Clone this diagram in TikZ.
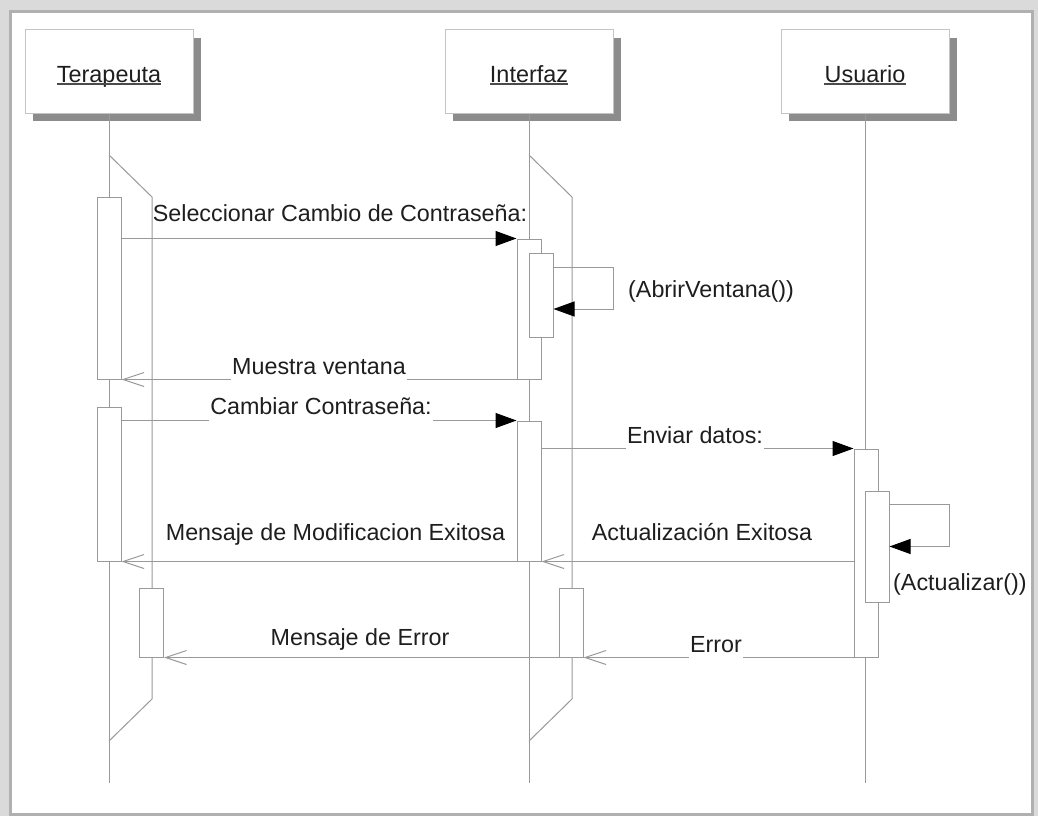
\documentclass[tikz,border=0pt]{standalone}
\usepackage{fontspec}
\setmainfont{Liberation Sans}
\usetikzlibrary{arrows.meta}
\definecolor{linegray}{HTML}{999999}
\definecolor{boxgray}{HTML}{C4C4C4}
\definecolor{shadowgray}{HTML}{8C8C8C}
\definecolor{actgray}{HTML}{9A9A9A}
\definecolor{txt}{HTML}{1E1E1E}
\definecolor{bggray}{HTML}{DADADA}
\definecolor{framegray}{HTML}{B0B0B0}
\begin{document}
\begin{tikzpicture}[x=1pt,y=-1pt,
  line/.style={draw=linegray, line width=1pt},
  titlebox/.style={draw=boxgray, fill=white, line width=1pt, minimum width=168pt, minimum height=83pt, inner sep=0pt},
  shadowbox/.style={fill=shadowgray, minimum width=168pt, minimum height=83pt, inner sep=0pt},
  ttext/.style={font=\fontsize{23.4}{28}\selectfont, text=txt, inner sep=0pt, anchor=base},
  uline/.style={draw=txt!80, line width=1.4pt},
  act/.style={draw=actgray, fill=white, line width=1pt, minimum width=24pt, inner sep=0pt},
  lbl/.style={font=\fontsize{23.3}{28}\selectfont, text=txt, fill=white, inner xsep=1pt, inner ysep=1pt, text depth=6pt, anchor=base},
  sync/.style={line, -{Triangle[length=21pt,width=15pt,color=black]}},
  reply/.style={line, -{Straight Barb[length=21pt,width=14pt]}},
]
\useasboundingbox (0,0) rectangle (1038,816);
% frame
\fill[bggray] (0,0) rectangle (1038,816);
\fill[framegray] (9,10) rectangle (1034,816);
\fill[white] (12,13) rectangle (1031,813);

% title boxes
\node[shadowbox] (Ts) at (117,79.5) {};
\node[shadowbox] (Is) at (537,79.5) {};
\node[shadowbox] (Us) at (873,79.5) {};
\node[titlebox] (T) at (109,71.5) {};
\node[titlebox] (I) at (529,71.5) {};
\node[titlebox] (U) at (865,71.5) {};
\node[ttext] (Tt) at (109,82) {Terapeuta};
\node[ttext] (It) at (529,82) {Interfaz};
\node[ttext] (Ut) at (865,82) {Usuario};
\draw[uline] ([yshift=-2pt]Tt.base west) -- ([yshift=-2pt]Tt.base east);
\draw[uline] ([yshift=-2pt]It.base west) -- ([yshift=-2pt]It.base east);
\draw[uline] ([yshift=-2pt]Ut.base west) -- ([yshift=-2pt]Ut.base east);

% lifelines
\coordinate (Tend) at (109,783);
\coordinate (Iend) at (529,783);
\coordinate (Uend) at (865,783);
\draw[line] (T.south) -- (Tend);
\draw[line] (I.south) -- (Iend);
\draw[line] (U.south) -- (Uend);

% activation geometry (coordinates only, boxes drawn later)
\path (109,288) node[act, minimum height=182pt, draw=none, fill=none] (tA1) {};
\path (109,484) node[act, minimum height=154pt, draw=none, fill=none] (tA2) {};
\path (151.5,622.5) node[act, minimum height=69pt, draw=none, fill=none] (tA3) {};
\path (529,309) node[act, minimum height=140pt, draw=none, fill=none] (iA1) {};
\path (541,295) node[act, minimum height=84pt, draw=none, fill=none] (iA1n) {};
\path (529,491) node[act, minimum height=140pt, draw=none, fill=none] (iA2) {};
\path (571,622.5) node[act, minimum height=69pt, draw=none, fill=none] (iA3) {};
\path (866,553) node[act, minimum height=208pt, draw=none, fill=none] (uA1) {};
\path (877,546.5) node[act, minimum height=111pt, draw=none, fill=none] (uA1n) {};

% messages
\draw[sync] (tA1.east |- iA1.north) -- (iA1.north west);
\draw[reply] (iA1.south west) -- (tA1.south east);
\draw[sync] (tA2.east |- iA2.north) -- (iA2.north west);
\draw[sync] (iA2.east |- uA1.north) -- (uA1.north west);
\draw[reply] (uA1.west |- iA2.south) -- (iA2.south east);
\draw[reply] (iA2.south west) -- (tA2.south east);
\draw[reply] (uA1.south west) -- (iA3.south east);
\draw[reply] (iA3.south west) -- (tA3.south east);

% labels
\node[lbl] (l1) at (340,221) {Seleccionar Cambio de Contraseña:};
\node[lbl] (l2) at (319,374) {Muestra ventana};
\node[lbl] (l3) at (321,414) {Cambiar Contraseña:};
\node[lbl] (l4) at (695,443) {Enviar datos:};
\node[lbl] (l5) at (702,540) {Actualización Exitosa};
\node[lbl] (l6) at (335.5,540) {Mensaje de Modificacion Exitosa};
\node[lbl] (l7) at (716,652) {Error};
\node[lbl] (l8) at (360,645) {Mensaje de Error};
\node[lbl, anchor=base west, fill=none] (l9) at (627,297) {(AbrirVentana())};
\node[lbl, anchor=base west, fill=none] (l10) at (892,590) {(Actualizar())};

% branch lifelines
\draw[line] (109,155) -- (152,197) -- (152,699) -- (109,741);
\draw[line] (529,155) -- (572,197) -- (572,699) -- (529,741);

% activation boxes
\node[act, minimum height=182pt] at (tA1) {};
\node[act, minimum height=154pt] at (tA2) {};
\node[act, minimum height=69pt] at (tA3) {};
\node[act, minimum height=140pt] at (iA1) {};
\node[act, minimum height=84pt] at (iA1n) {};
\node[act, minimum height=140pt] at (iA2) {};
\node[act, minimum height=69pt] at (iA3) {};
\node[act, minimum height=208pt] at (uA1) {};
\node[act, minimum height=111pt] at (uA1n) {};

% self messages
\draw[sync] ([yshift=28pt]iA1n.east) -- ++(60,0) |- ([yshift=-14pt]iA1n.east);
\draw[sync] ([yshift=42.5pt]uA1n.east) -- ++(60,0) |- (uA1n.east);
\end{tikzpicture}
\end{document}
